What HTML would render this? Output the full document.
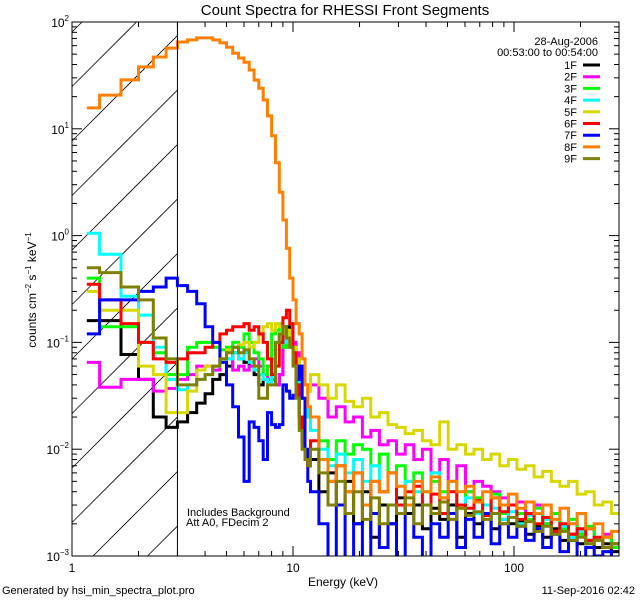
<!DOCTYPE html>
<html><head><meta charset="utf-8">
<style>
html,body{margin:0;padding:0;background:#fff;width:640px;height:600px;overflow:hidden;}
svg{display:block;font-family:"Liberation Sans",sans-serif;}
</style></head>
<body>
<svg id="chart" width="640" height="600" viewBox="0 0 640 600" xmlns="http://www.w3.org/2000/svg">
<rect x="0" y="0" width="640" height="600" fill="#fff"/>
<text x="345" y="15" font-size="15" text-anchor="middle">Count Spectra for RHESSI Front Segments</text>
<text transform="translate(36,290) rotate(-90)" font-size="12" text-anchor="middle">counts cm<tspan font-size="8" dy="-5">−2</tspan><tspan dy="5"> s</tspan><tspan font-size="8" dy="-5">−1</tspan><tspan dy="5"> keV</tspan><tspan font-size="8" dy="-5">−1</tspan></text>
<text x="343" y="586" font-size="12" text-anchor="middle">Energy (keV)</text>
<text x="2" y="594" font-size="11">Generated by hsi_min_spectra_plot.pro</text>
<text x="635" y="594" font-size="11" text-anchor="end">11-Sep-2016 02:42</text>
<text x="187" y="516" font-size="11">Includes Background</text>
<text x="186" y="526" font-size="11">Att A0, FDecim 2</text>
<text x="598" y="45" font-size="11" text-anchor="end">28-Aug-2006</text>
<text x="598" y="56" font-size="11" text-anchor="end">00:53:00 to 00:54:00</text>
<g id="hatch"></g>
<g id="series"></g>
<g id="axes"></g>
<g id="legend"></g>
</svg>
<script>
const lowEdges = [1.1667,1.3333,1.6667,2,2.3333,2.6667,3,3.3333,3.6667,4,4.3333,4.6667,5,5.3333,5.6667,6,6.3333,6.6667,7,7.3333,7.6667,8,8.3333,8.6667,9,9.3333,9.6667,10,10.3333,10.6667,11,11.3333,11.6667,12];
const highEdges = [12,13.1,14.4,15.7,17.2,18.8,20.6,22.5,24.6,26.9,29.4,32.2,35.2,38.5,42.1,46.1,50.4,55.1,60.3,65.9,72.1,78.8,86.2,94.3,103.1,112.8,123.3,134.9,147.5,161.3,176.4,192.9,211,230.7,252.3,275.9,301];
const segLabels = ["1F","2F","3F","4F","5F","6F","7F","8F","9F"];
const segColors = ["#000000","#ff00ff","#00ff00","#00ffff","#d8d800","#ff0000","#0000ff","#ff8000","#808000"];
const low1F = [0.16,0.16,0.077,0.045,0.02,0.016,0.018,0.022,0.027,0.033,0.045,0.05,0.06,0.08,0.07,0.065,0.06,0.05,0.04,0.045,0.06,0.05,0.04,0.05,0.1,0.14,0.12,0.07,0.04,0.02,0.012,0.008,0.007];
const low2F = [0.065,0.038,0.045,0.045,0.035,0.037,0.045,0.05,0.06,0.06,0.055,0.07,0.07,0.055,0.06,0.055,0.06,0.07,0.06,0.05,0.045,0.045,0.04,0.05,0.09,0.12,0.13,0.1,0.08,0.06,0.05,0.04,0.035];
const low3F = [0.4,0.14,0.14,0.1,0.08,0.05,0.05,0.09,0.1,0.1,0.09,0.085,0.09,0.1,0.09,0.12,0.1,0.08,0.07,0.05,0.06,0.12,0.13,0.15,0.09,0.12,0.1,0.08,0.05,0.04,0.03,0.025,0.02];
const low4F = [1.05,0.67,0.27,0.18,0.09,0.045,0.036,0.04,0.045,0.05,0.06,0.065,0.07,0.08,0.07,0.08,0.065,0.055,0.05,0.045,0.04,0.07,0.1,0.12,0.1,0.11,0.09,0.07,0.05,0.04,0.03,0.025,0.02];
const low5F = [0.3,0.2,0.2,0.06,0.05,0.022,0.022,0.035,0.055,0.06,0.06,0.07,0.085,0.09,0.095,0.1,0.09,0.1,0.12,0.14,0.15,0.13,0.15,0.14,0.12,0.13,0.1,0.09,0.07,0.06,0.05,0.04,0.035];
const low6F = [0.35,0.25,0.15,0.1,0.07,0.065,0.07,0.08,0.08,0.09,0.1,0.12,0.13,0.14,0.14,0.15,0.13,0.14,0.12,0.1,0.07,0.05,0.06,0.1,0.17,0.2,0.15,0.08,0.04,0.02,0.012,0.008,0.007];
const low7F = [0.12,0.25,0.25,0.3,0.33,0.4,0.34,0.3,0.23,0.14,0.1,0.065,0.04,0.025,0.013,0.005,0.018,0.016,0.012,0.008,0.022,0.017,0.016,0.017,0.04,0.035,0.03,0.032,0.045,0.06,0.03,0.01,0.005];
const low8F = [15.7,20.7,28.7,38,47,57,65,68,71,71,68,64,58,51,46,42,35.5,28.6,24,18.6,13.2,8.6,4.8,2.55,1.4,0.76,0.4,0.25,0.15,0.12,0.07,0.04,0.025];
const low9F = [0.5,0.45,0.33,0.25,0.11,0.07,0.04,0.04,0.045,0.05,0.06,0.07,0.08,0.09,0.08,0.085,0.07,0.06,0.03,0.03,0.04,0.04,0.1,0.12,0.14,0.11,0.09,0.06,0.03,0.015,0.01,0.008,0.007];
const high1F = [0.008,0.004,0.006,0.003,0.005,0.002,0.004,0.0015,0.003,0.002,0.0035,0.0025,0.003,0.0018,0.0028,0.0022,0.003,0.0015,0.0025,0.002,0.0024,0.0018,0.0022,0.002,0.0021,0.0016,0.0019,0.0015,0.0018,0.0014,0.0016,0.0013,0.0014,0.0012,0.0013,0.0011];
const high2F = [0.04,0.03,0.02,0.025,0.018,0.02,0.013,0.015,0.011,0.012,0.009,0.011,0.008,0.01,0.006,0.008,0.005,0.007,0.004,0.005,0.0045,0.004,0.0035,0.003,0.0032,0.0025,0.003,0.002,0.0025,0.0018,0.002,0.0016,0.0018,0.0014,0.0016,0.0013];
const high3F = [0.02,0.012,0.008,0.012,0.009,0.011,0.01,0.007,0.009,0.006,0.007,0.005,0.006,0.004,0.005,0.004,0.005,0.003,0.004,0.0035,0.003,0.0038,0.0025,0.003,0.0025,0.0022,0.0028,0.002,0.0025,0.0018,0.0022,0.0016,0.0019,0.0014,0.0015,0.0012];
const high4F = [0.015,0.01,0.007,0.009,0.006,0.008,0.005,0.007,0.004,0.006,0.003,0.005,0.004,0.003,0.006,0.0035,0.004,0.003,0.0035,0.0025,0.003,0.0028,0.0022,0.0026,0.002,0.0024,0.0018,0.0022,0.0016,0.0019,0.0015,0.0017,0.0013,0.0015,0.0012,0.0013];
const high5F = [0.05,0.04,0.03,0.04,0.028,0.025,0.03,0.02,0.022,0.017,0.016,0.014,0.015,0.012,0.011,0.018,0.01,0.011,0.009,0.01,0.008,0.009,0.007,0.008,0.0065,0.007,0.0055,0.0062,0.005,0.0045,0.005,0.0038,0.004,0.003,0.0032,0.0025];
const high6F = [0.012,0.008,0.005,0.007,0.004,0.006,0.003,0.005,0.004,0.006,0.003,0.004,0.0045,0.003,0.0038,0.0025,0.004,0.003,0.0028,0.0033,0.0024,0.0035,0.0026,0.003,0.0022,0.0025,0.002,0.0023,0.0017,0.002,0.0016,0.0018,0.0014,0.0015,0.0012,0.0013];
const high7F = [0.004,0.002,0.0009,0.003,0.0008,0.002,0.0009,0.0025,0.0012,0.002,0.0008,0.003,0.0015,0.0009,0.002,0.0015,0.0025,0.0012,0.0022,0.0015,0.0025,0.0013,0.002,0.0015,0.0019,0.0014,0.0018,0.0012,0.0016,0.0011,0.0014,0.0009,0.0012,0.001,0.0011,0.0009];
const high8F = [0.02,0.008,0.005,0.007,0.004,0.006,0.003,0.005,0.004,0.006,0.0045,0.003,0.005,0.004,0.0055,0.0035,0.005,0.004,0.0045,0.0032,0.004,0.0035,0.003,0.0038,0.0028,0.0032,0.0025,0.003,0.0022,0.0028,0.002,0.0025,0.0018,0.002,0.0015,0.0017];
const high9F = [0.01,0.006,0.003,0.005,0.0025,0.004,0.0022,0.0035,0.002,0.003,0.0025,0.0035,0.002,0.003,0.0025,0.0032,0.0022,0.0028,0.0024,0.0026,0.0022,0.0025,0.002,0.0023,0.0019,0.0021,0.0017,0.0019,0.0016,0.0017,0.0014,0.0015,0.0013,0.0014,0.0012,0.0013];
const yTickExps = [2,1,0,-1,-2,-3];
const xTickLabels = ["1","10","100"];
const xTickValues = [1,10,100];

const NS = "http://www.w3.org/2000/svg";
const PL = 72, PR = 619, PT = 22, PB = 556;
const XMIN = 1, XMAX = Math.pow(10, (PR - PL) / 221);
function xs(e){ return PL + (Math.log10(e) - Math.log10(XMIN)) * 221; }
function ys(v){ return PT + (2 - Math.log10(v)) * (PB - PT) / 5; }
function mk(tag, attrs, parent){ const el = document.createElementNS(NS, tag); for (const k in attrs) el.setAttribute(k, attrs[k]); parent.appendChild(el); return el; }

const svg = document.getElementById('chart');
const defs = mk('defs', {}, svg);
const cp = mk('clipPath', {id:'plotclip'}, defs);
mk('rect', {x:PL, y:PT, width:PR-PL, height:PB-PT}, cp);

const X3 = xs(3);
const hatch = document.getElementById('hatch');
for (let c = 32 - 4*54.5; c < PB + (X3 - PL); c += 54.5) {
  // line: y = c - (x - PL)
  const xa = PL + Math.max(0, c - PB);
  const xb = PL + Math.min(X3 - PL, c - PT);
  if (xb <= xa) continue;
  const ln = mk('line', {x1:xa, y1:c-(xa-PL), x2:xb, y2:c-(xb-PL), stroke:'#000', 'stroke-width':0.8}, hatch);
  
  
}
const vl = mk('line', {x1:X3, y1:PT, x2:X3, y2:PB, stroke:'#000', 'stroke-width':1}, svg);



const lows = [low1F,low2F,low3F,low4F,low5F,low6F,low7F,low8F,low9F];
const highs = [high1F,high2F,high3F,high4F,high5F,high6F,high7F,high8F,high9F];
const sg = document.getElementById('series');
sg.setAttribute('clip-path', 'url(#plotclip)');
for (let s = 0; s < 9; s++) {
  let d = '';
  const pts = [];
  lows[s].forEach((v, i) => { pts.push([lowEdges[i], lowEdges[i+1], v]); });
  highs[s].forEach((v, i) => { pts.push([highEdges[i], highEdges[i+1], v]); });
  pts.forEach((p, i) => {
    const y = Math.min(ys(p[2]), PB + 4);
    const x1 = Math.min(xs(p[0]), PR), x2 = Math.min(xs(p[1]), PR);
    d += (i === 0 ? 'M' : 'L') + x1.toFixed(1) + ',' + y.toFixed(1) + 'L' + x2.toFixed(1) + ',' + y.toFixed(1);
  });
  const path = mk('path', {d:d, fill:'none', stroke:segColors[s], 'stroke-width':3, 'stroke-linejoin':'miter'}, sg);
  
  
}

const ax = document.getElementById('axes');
const frame = mk('rect', {x:PL, y:PT, width:PR-PL, height:PB-PT, fill:'none', stroke:'#000', 'stroke-width':1}, ax);


for (let dec = 0; dec <= 2; dec++) {
  for (let m = 1; m <= 9; m++) {
    const e = m * Math.pow(10, dec);
    if (e > XMAX) continue;
    const x = xs(e);
    const L = m === 1 ? 10 : 5;
    const t1 = mk('line', {x1:x, y1:PB, x2:x, y2:PB-L, stroke:'#000'}, ax);
    
    
    const t2 = mk('line', {x1:x, y1:PT, x2:x, y2:PT+L, stroke:'#000'}, ax);
    
    
  }
}
xTickValues.forEach((v, i) => {
  const t = mk('text', {x:xs(v), y:PB+16, 'font-size':12, 'text-anchor':'middle'}, ax);
  t.textContent = xTickLabels[i];
  
  
});
for (let ex = -3; ex < 2; ex++) {
  for (let m = 1; m <= 9; m++) {
    const y = ys(m * Math.pow(10, ex));
    const L = m === 1 ? 10 : 5;
    const t1 = mk('line', {x1:PL, y1:y, x2:PL+L, y2:y, stroke:'#000'}, ax);
    
    
    const t2 = mk('line', {x1:PR, y1:y, x2:PR-L, y2:y, stroke:'#000'}, ax);
    
    
  }
}
yTickExps.forEach(ex => {
  const y = ys(Math.pow(10, ex));
  const t = mk('text', {x:PL-3, y:y+5, 'font-size':12, 'text-anchor':'end'}, ax);
  
  
  t.innerHTML = '10<tspan font-size="8" dy="-6">' + (ex < 0 ? '−' + (-ex) : ex) + '</tspan>';
});

const lg = document.getElementById('legend');
segLabels.forEach((lab, i) => {
  const y = 65 + i * 11.7;
  const g = mk('g', {}, lg);
  
  
  const t = mk('text', {x:577, y:y+4, 'font-size':11, 'text-anchor':'end'}, g);
  t.textContent = lab;
  mk('line', {x1:583, y1:y, x2:600, y2:y, stroke:segColors[i], 'stroke-width':3}, g);
});
</script>
</body></html>
